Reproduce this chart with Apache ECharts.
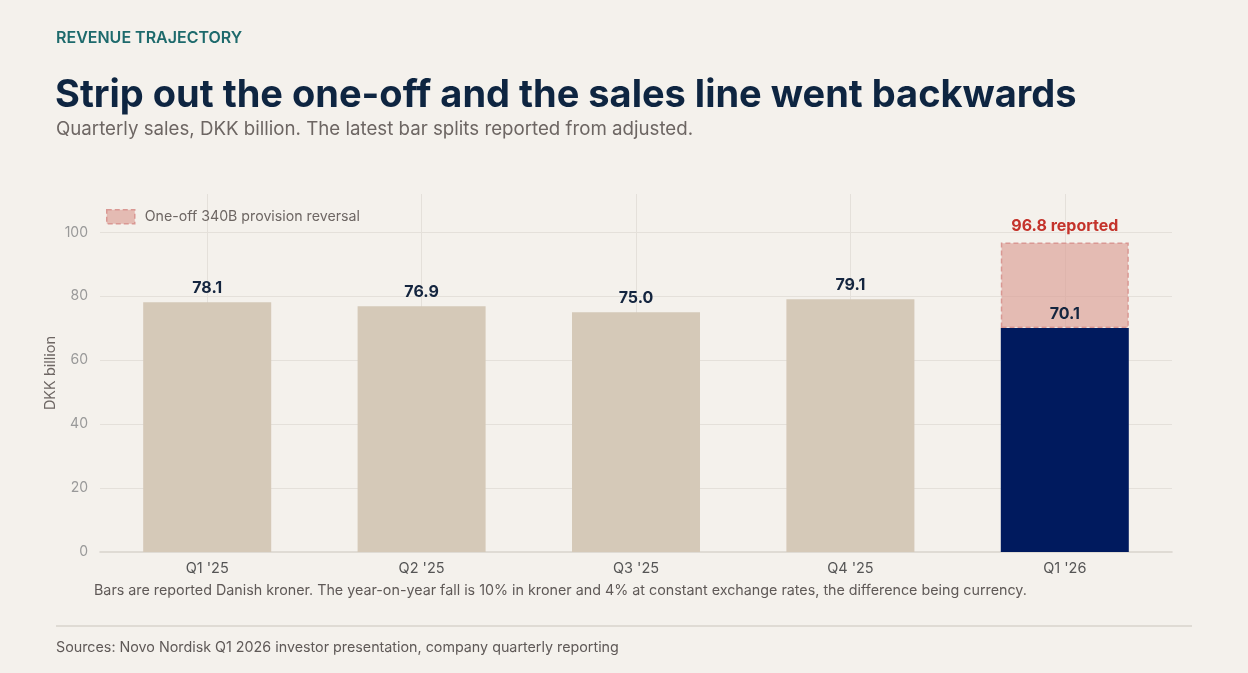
<!DOCTYPE html>
<html>
<head>
<meta charset="utf-8">
<script src="https://cdn.jsdelivr.net/npm/echarts@6/dist/echarts.min.js"></script>
<style>
  html, body { margin: 0; padding: 0; background: #f4f1ec; }
  #chart { width: 1248px; height: 673px; }
</style>
</head>
<body>
<div id="chart"></div>
<script>
// data
var quarters = ["Q1 '25", "Q2 '25", "Q3 '25", "Q4 '25", "Q1 '26"];
var adjusted = [78.1, 76.9, 75.0, 79.1, 70.1];
var reported = [78.1, 76.9, 75.0, 79.1, 96.8];
var yTicks = [0, 20, 40, 60, 80, 100];

var FONT = 'Inter, "Noto Sans", sans-serif';
var navy = '#001a5e';
var beige = '#d5c9b8';
var gridColor = '#e4e0da';

// one-off only on the latest bar
var oneOff = reported.map(function (r, i) {
    var d = +(r - adjusted[i]).toFixed(1);
    return d > 0 ? d : null;
});
var last = quarters.length - 1;

// grid lines: verticals through category centres, horizontals at ticks (not at the axis max)
var gridLines = quarters.map(function (q) { return { xAxis: q }; })
    .concat(yTicks.filter(function (t) { return t > 0; }).map(function (t) { return { yAxis: t }; }));

var chart = echarts.init(document.getElementById('chart'));
var option = {
    backgroundColor: '#f4f1ec',
    textStyle: { fontFamily: FONT },
    title: [
        { text: 'REVENUE TRAJECTORY', left: 51, top: 25,
          textStyle: { fontFamily: FONT, fontSize: 16, fontWeight: 600, color: '#1d6a6c' } },
        { text: 'Strip out the one-off and the sales line went backwards', left: 50, top: 72,
          textStyle: { fontFamily: FONT, fontSize: 38, fontWeight: 700, color: '#0e2541' } },
        { text: 'Quarterly sales, DKK billion. The latest bar splits reported from adjusted.', left: 51, top: 115,
          textStyle: { fontFamily: FONT, fontSize: 18.7, fontWeight: 400, color: '#6d6663' } },
        { text: 'Bars are reported Danish kroner. The year-on-year fall is 10% in kroner and 4% at constant exchange rates, the difference being currency.',
          left: 89, top: 579,
          textStyle: { fontFamily: FONT, fontSize: 14.3, fontWeight: 400, color: '#5f5957' } },
        { text: 'Sources: Novo Nordisk Q1 2026 investor presentation, company quarterly reporting', left: 51, top: 636,
          textStyle: { fontFamily: FONT, fontSize: 14.3, fontWeight: 400, color: '#5f5957' } }
    ],
    graphic: [
        { type: 'line', shape: { x1: 56, y1: 626, x2: 1192, y2: 626 },
          style: { stroke: '#d8d3cc', lineWidth: 1.5 } }
    ],
    legend: {
        left: 101, top: 204,
        icon: 'rect',
        itemWidth: 28, itemHeight: 14, itemGap: 10,
        itemStyle: { borderColor: '#d99893', borderWidth: 1.5, borderType: [5, 3] },
        textStyle: { fontFamily: FONT, fontSize: 14.2, color: '#6d6663', padding: [0, 0, 0, 5] },
        data: ['One-off 340B provision reversal']
    },
    grid: { left: 100, right: 76, top: 194, bottom: 121 },
    xAxis: {
        type: 'category',
        data: quarters,
        axisLine: { lineStyle: { color: '#d8d3cc', width: 1.5 } },
        axisTick: { show: false },
        axisLabel: { color: '#555', fontSize: 14.5, fontFamily: FONT, margin: 9 }
    },
    yAxis: {
        type: 'value',
        min: 0, max: 112, interval: 20,
        name: 'DKK billion',
        nameLocation: 'middle',
        nameGap: 42,
        nameMoveOverlap: false,
        nameTextStyle: { color: '#6d6663', fontSize: 14.5, fontFamily: FONT },
        axisLine: { show: false },
        axisTick: { show: false },
        axisLabel: {
            color: '#999', fontSize: 14, fontFamily: FONT, margin: 12,
            formatter: function (v) { return yTicks.indexOf(v) >= 0 ? v : ''; }
        },
        splitLine: { show: false }
    },
    series: [
        {
            // grid lines drawn behind the bars
            type: 'line', data: [], z: 0, silent: true,
            markLine: {
                silent: true, symbol: 'none', z: 0,
                label: { show: false },
                lineStyle: { color: gridColor, type: 'solid', width: 1 },
                data: gridLines
            }
        },
        {
            name: 'Adjusted',
            type: 'bar',
            stack: 'sales',
            barWidth: 128,
            data: adjusted.map(function (v, i) {
                return { value: v, itemStyle: { color: i === last ? navy : beige } };
            }),
            label: {
                show: true, position: 'top', distance: 6,
                fontFamily: FONT, fontSize: 16, fontWeight: 700, color: '#14253f',
                formatter: function (p) { return p.value.toFixed(1); }
            },
            z: 4
        },
        {
            name: 'One-off 340B provision reversal',
            type: 'bar',
            stack: 'sales',
            barWidth: 128,
            data: oneOff,
            itemStyle: {
                color: 'rgba(220,160,152,0.68)',
                borderColor: '#d99893',
                borderWidth: 1.5,
                borderType: [5, 3]
            },
            label: {
                show: true, position: 'top', distance: 8,
                fontFamily: FONT, fontSize: 16, fontWeight: 700, color: '#c4332b',
                formatter: function (p) { return reported[p.dataIndex].toFixed(1) + ' reported'; }
            },
            z: 2
        }
    ]
};
chart.setOption(option);
</script>
</body>
</html>
